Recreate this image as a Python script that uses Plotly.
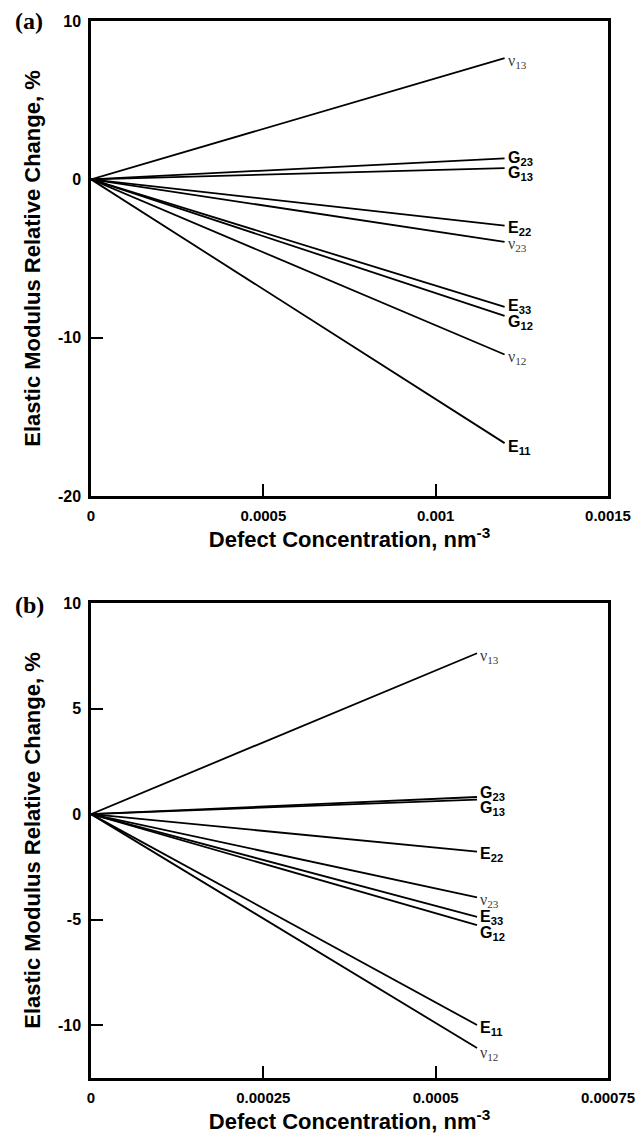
import plotly.graph_objects as go

# ---------------- data ----------------
series_labels = ["ν13", "G23", "G13", "E22", "ν23", "E33", "G12", "ν12", "E11"]
x_start = 0.0
# panel (a)
a_x_end = 0.0012
a_values = [7.65, 1.33, 0.71, -2.93, -3.95, -8.06, -8.62, -11.06, -16.66]
# panel (b)
b_x_end = 0.00056
b_values = [7.62, 0.81, 0.69, -1.78, -3.94, -4.87, -5.26, -11.08, -9.99]

a_xticks = [0, 0.0005, 0.001, 0.0015]
a_xticktext = ["0", "0.0005", "0.001", "0.0015"]
a_yticks = [-20, -10, 0, 10]
b_xticks = [0, 0.00025, 0.0005, 0.00075]
b_xticktext = ["0", "0.00025", "0.0005", "0.00075"]
b_yticks = [-10, -5, 0, 5, 10]

# label nudges (pixels, style only)
a_label_shift = {"ν13": -3, "G23": 0, "G13": -5, "E22": -3, "ν23": -3,
                 "E33": 0, "G12": -7, "ν12": -3, "E11": -4}
b_label_shift = {"ν13": -3, "G23": 4, "G13": -9, "E22": -3, "ν23": -3,
                 "E33": -1, "G12": -8, "ν12": -5, "E11": -3}

SANS = "Liberation Sans, Arial, sans-serif"
SERIF = "Liberation Serif, Times New Roman, serif"


def label_html(name):
    sym, sub = name[0], name[1:]
    if sym == "ν":
        return f"ν<sub>{sub}</sub>"
    return f"<b>{sym}<sub>{sub}</sub></b>"


fig = go.Figure()
annotations = []

for xa, ya, x_end, values, shifts in [
    ("x", "y", a_x_end, a_values, a_label_shift),
    ("x2", "y2", b_x_end, b_values, b_label_shift),
]:
    for name, v in zip(series_labels, values):
        fig.add_trace(go.Scatter(
            x=[x_start, x_end], y=[0, v], mode="lines",
            line=dict(color="black", width=1.8),
            xaxis=xa, yaxis=ya, showlegend=False, hoverinfo="skip",
        ))
        is_nu = name.startswith("ν")
        annotations.append(dict(
            x=x_end, y=v, xref=xa, yref=ya, text=label_html(name),
            showarrow=False, xanchor="left", yanchor="middle",
            xshift=1, yshift=shifts[name],
            font=dict(family=SERIF if is_nu else SANS,
                      size=16,
                      color="#3a3a3a" if is_nu else "black"),
        ))

axis_common = dict(
    showline=True, linecolor="black", linewidth=2.5, mirror=True,
    ticks="inside", ticklen=12, tickwidth=1.8, tickcolor="black",
    showgrid=False, zeroline=False, automargin=False, ticklabelstandoff=4,
    ticklabeloverflow="allow",
    tickfont=dict(family=SANS, size=16, color="black"),
)
xaxis_font = dict(family=SANS, size=15, color="black")
xtitle = dict(text="<b>Defect Concentration, nm<sup>-3</sup></b>",
              font=dict(family=SANS, size=22, color="black"), standoff=8)
ytitle = dict(text="<b>Elastic Modulus Relative Change, %</b>",
              font=dict(family=SANS, size=22, color="black"), standoff=12)

top_a = 1.0
bot_a = 0.5506
top_b = 0.4494

# the page body adds an 8px margin; keep the figure inside the 644x1144 window
fig.update_layout(
    width=628, height=1128,
    margin=dict(l=83, r=28, t=13, b=58),
    paper_bgcolor="white", plot_bgcolor="white",
    xaxis=dict(axis_common, domain=[0, 1], range=[0, 0.0015], tickfont=xaxis_font,
               tickvals=a_xticks, ticktext=[f"<b>{t}</b>" for t in a_xticktext],
               anchor="y", title=xtitle),
    yaxis=dict(axis_common, domain=[bot_a, top_a], range=[-20, 10],
               tickvals=a_yticks, ticktext=[f"<b>{t}</b>" for t in a_yticks],
               anchor="x", title=ytitle),
    xaxis2=dict(axis_common, domain=[0, 1], range=[0, 0.00075], tickfont=xaxis_font,
                tickvals=b_xticks, ticktext=[f"<b>{t}</b>" for t in b_xticktext],
                anchor="y2", title=xtitle),
    yaxis2=dict(axis_common, domain=[0.0, top_b], range=[-12.5, 10],
                tickvals=b_yticks, ticktext=[f"<b>{t}</b>" for t in b_yticks],
                anchor="x2", title=ytitle),
)

annotations.append(dict(x=0, y=top_a, xref="paper", yref="paper", xshift=-78, yshift=0,
                        text="<b>(a)</b>", showarrow=False, xanchor="left", yanchor="middle",
                        font=dict(family=SERIF, size=24, color="black")))
annotations.append(dict(x=0, y=top_b, xref="paper", yref="paper", xshift=-78, yshift=-2,
                        text="<b>(b)</b>", showarrow=False, xanchor="left", yanchor="middle",
                        font=dict(family=SERIF, size=24, color="black")))
fig.update_layout(annotations=annotations)

fig.write_html("out.html")
